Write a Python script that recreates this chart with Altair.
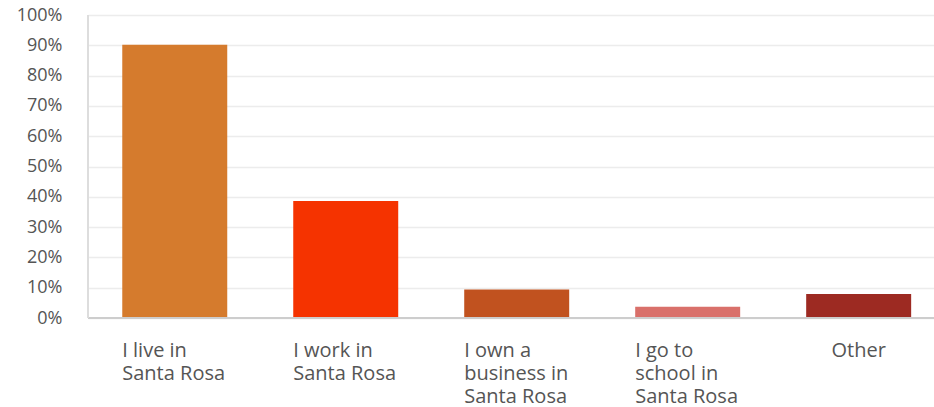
import altair as alt
import pandas as pd

categories = ["I live in\nSanta Rosa", "I work in\nSanta Rosa", "I own a\nbusiness in\nSanta Rosa",
              "I go to\nschool in\nSanta Rosa", "Other"]
keys = ["live", "work", "own", "school", "other"]
values = [0.902, 0.386, 0.094, 0.037, 0.079]
colors = ["#D57B2D", "#F53300", "#C1521F", "#D9706A", "#9D2A22"]
aligns = ["left", "left", "left", "left", "center"]
yticks = [0.0, 0.1, 0.2, 0.3, 0.4, 0.5, 0.6, 0.7, 0.8, 0.9, 1.0]

df = pd.DataFrame({"key": keys, "label": categories, "value": values, "color": colors, "align": aligns})

W, H = 846, 303

xscale = alt.Scale(domain=keys, paddingInner=0.386, paddingOuter=0.167, align=0.6)

bars = alt.Chart(df).mark_bar().encode(
    x=alt.X("key:N", scale=xscale, axis=None, sort=keys),
    y=alt.Y("value:Q", scale=alt.Scale(domain=[0, 1], nice=False),
            axis=alt.Axis(format=".0%", values=yticks, title=None, labelOverlap=False,
                          ticks=False, domain=False, labelPadding=26, labelFont="Open Sans",
                          labelFontSize=18, labelColor="#555555", gridColor="#ececec",
                          gridWidth=1.5, labelBaseline="middle")),
    color=alt.Color("color:N", scale=None),
)

base_rule = alt.Chart(df).mark_rule(color="#cccccc", strokeWidth=1.5).encode(
    y=alt.value(H)
)
left_rule = alt.Chart(df).mark_rule(color="#dddddd", strokeWidth=1.5).encode(
    x=alt.value(0)
)

def label_layer(sub, band):
    return alt.Chart(sub).transform_calculate(
        lines="split(datum.label, '\\n')"
    ).mark_text(
        align=sub["align"].iloc[0], baseline="alphabetic", font="Open Sans", fontSize=20,
        color="#555555", lineHeight=23,
    ).encode(
        x=alt.X("key:N", scale=xscale, axis=None, sort=keys, bandPosition=band),
        y=alt.value(H + 39),
        text="lines:N",
    )

left_labels = label_layer(df[df["align"] == "left"], 0)
center_labels = label_layer(df[df["align"] == "center"], 0.5)

chart = alt.layer(bars, base_rule, left_rule, left_labels, center_labels).properties(
    width=W, height=H,
    autosize=alt.AutoSizeParams(type="none"),
    padding={"left": 88, "top": 15, "right": 0, "bottom": 89},
).configure_view(stroke=None)

chart.save("out.html", embed_options={"renderer": "svg", "actions": False})
